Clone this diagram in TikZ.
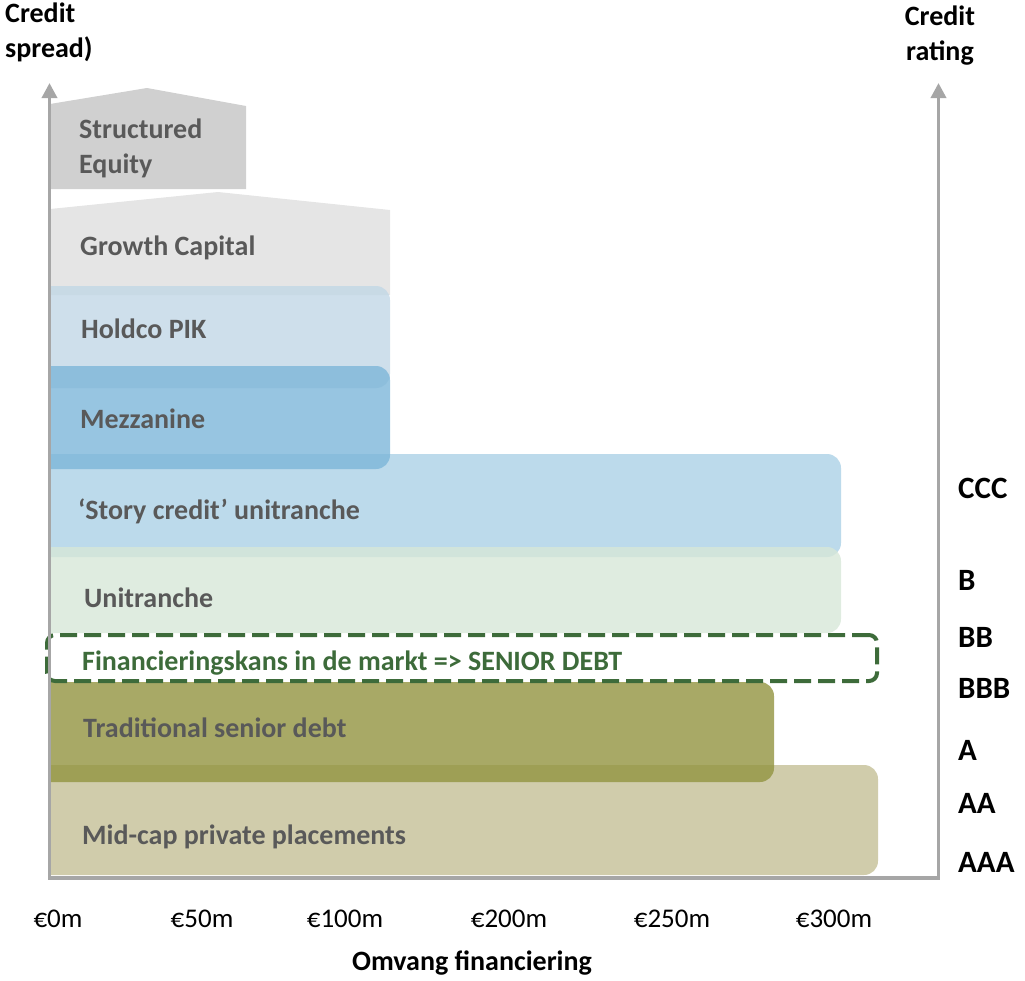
\documentclass[tikz,border=0pt]{standalone}
\usepackage{fontspec}
\setmainfont{Carlito}
\usetikzlibrary{arrows.meta}

\definecolor{axisgray}{RGB}{166,166,166}
\definecolor{labelgray}{RGB}{89,89,89}
\definecolor{kansgreen}{RGB}{61,107,58}
\definecolor{equitygray}{RGB}{196,196,196}
\definecolor{growthgray}{RGB}{223,223,223}
\definecolor{holdcoblue}{RGB}{194,215,230}
\definecolor{mezzblue}{RGB}{125,182,217}
\definecolor{storyblue}{RGB}{171,209,230}
\definecolor{unigreen}{RGB}{215,231,216}
\definecolor{seniorolive}{RGB}{146,148,64}
\definecolor{placementtan}{RGB}{196,191,150}

\begin{document}
\begin{tikzpicture}[x=1pt, y=-1pt,
  band/.style={fill opacity=0.8, rounded corners=14pt},
  band label/.style={anchor=base west, inner sep=0, text=labelgray,
    font=\bfseries\fontsize{28}{35}\selectfont, align=left},
  rating/.style={anchor=base west, inner sep=0,
    font=\bfseries\fontsize{31}{36}\selectfont},
  tick label/.style={anchor=base, inner sep=0,
    font=\fontsize{27}{32}\selectfont},
  axis title/.style={inner sep=0, font=\bfseries\fontsize{28}{35}\selectfont},
  axis/.style={draw=axisgray, line width=3.5pt,
    {Triangle[width=15pt,length=15pt]}-{Triangle[width=15pt,length=15pt]}},
  kansbox/.style={draw=kansgreen, line width=4pt, dash pattern=on 17pt off 7pt,
    rounded corners=8pt, minimum width=830pt, minimum height=46pt, inner sep=0}]
\useasboundingbox (0,0) rectangle (1025,980);

% bands, left ends hidden behind the axis
\begin{scope}
  \clip (50,0) rectangle (1025,980);
  \fill[band, fill=placementtan] (20,765) rectangle (878,875);
  \fill[band, fill=seniorolive] (20,682) rectangle (774,782);
  \fill[band, fill=storyblue] (20,454) rectangle (841,557);
  \fill[band, fill=unigreen] (20,547) rectangle (841,633);
  \fill[fill=growthgray, fill opacity=0.8] (50,209) -- (218,192) -- (390,210)
    -- (390,295) -- (50,295) -- cycle;
  \fill[fill=equitygray, fill opacity=0.8] (50,104) -- (147,88) -- (246,106)
    -- (246,189) -- (50,189) -- cycle;
  \fill[band, fill=holdcoblue] (20,286) rectangle (390,388);
  \fill[band, fill=mezzblue] (20,366) rectangle (390,469);
\end{scope}

\node[kansbox] (kansbox) at (462,658) {};

\node[band label] (equity) at (79,173) {Structured\\Equity};
\node[band label] (growth) at (80,255) {Growth Capital};
\node[band label] (holdco) at (81,338) {Holdco PIK};
\node[band label] (mezz) at (80,428) {Mezzanine};
\node[band label] (story) at (78,519) {‘Story credit’ unitranche};
\node[band label] (uni) at (84,607) {Unitranche};
\node[band label, text=kansgreen] (kans) at (82,670) {Financieringskans in de markt => SENIOR DEBT};
\node[band label] (senior) at (83,737) {Traditional senior debt};
\node[band label] (placement) at (82,844) {Mid-cap private placements};

% axes
\coordinate (ytop) at (49.5,83);
\coordinate (origin) at (49.5,878);
\coordinate (xend) at (938.5,878);
\coordinate (rtop) at (938.5,83);
\draw[axis] (ytop) -- (origin) -- (xend) -- (rtop);

\foreach \grade/\y in {CCC/498, B/590, BB/647, BBB/698, A/760, AA/813, AAA/872}
  \node[rating] (r\grade) at (958,\y) {\grade};

\foreach \amt/\x in {0/58, 50/202, 100/345, 200/509, 250/672, 300/834}
  \node[tick label] (t\amt) at (\x,927) {€\amt m};

\node[axis title, anchor=base west, align=left] (spread) at (5,57) {Credit\\spread)};
\node[axis title, anchor=base, align=center] (rating) at (940,60) {Credit\\rating};
\node[axis title, anchor=base] (omvang) at (472,970) {Omvang financiering};
\end{tikzpicture}
\end{document}
